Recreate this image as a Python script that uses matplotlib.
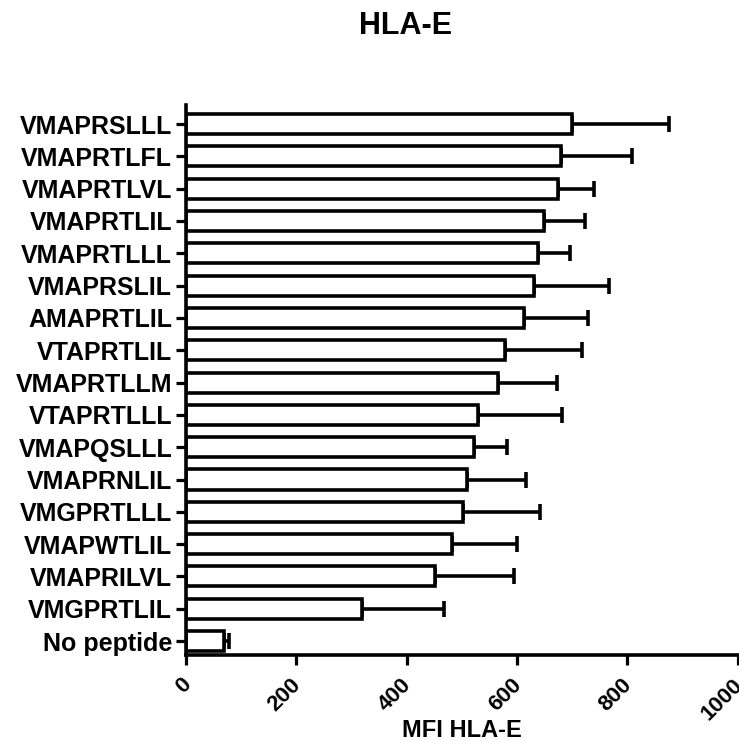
import numpy as np
import matplotlib
matplotlib.use('Agg')
import matplotlib.pyplot as plt

# peptides, top to bottom
peptides = ['VMAPRSLLL', 'VMAPRTLFL', 'VMAPRTLVL', 'VMAPRTLIL', 'VMAPRTLLL',
            'VMAPRSLIL', 'AMAPRTLIL', 'VTAPRTLIL', 'VMAPRTLLM', 'VTAPRTLLL',
            'VMAPQSLLL', 'VMAPRNLIL', 'VMGPRTLLL', 'VMAPWTLIL', 'VMAPRILVL',
            'VMGPRTLIL', 'No peptide']
mfi_mean = [699, 680, 675, 650, 639, 631, 612, 579, 565, 530,
            522, 509, 502, 482, 451, 319, 68]
mfi_err = [177, 128, 65, 73, 58, 136, 117, 139, 107, 151,
           60, 107, 140, 119, 144, 148, 10]
x_ticks = [0, 200, 400, 600, 800, 1000]

plt.rcParams['font.family'] = ['Liberation Sans', 'DejaVu Sans']
plt.rcParams['font.weight'] = 'bold'

fig = plt.figure(figsize=(7.39, 7.42), dpi=100)
ax = fig.add_axes([0.2517, 0.1173, 0.7463, 0.7412])

n = len(peptides)
ypos = np.arange(n)[::-1]  # first peptide at the top

ax.barh(ypos, mfi_mean, height=0.62, color='white', edgecolor='black',
        linewidth=2.6, zorder=2)
ax.errorbar(mfi_mean, ypos, xerr=[np.zeros(n), mfi_err], fmt='none',
            ecolor='black', elinewidth=2.6, capsize=5.5, capthick=2.6, zorder=1)

ax.set_xlim(0, 1000)
ax.set_ylim(-0.43, 16.59)
ax.set_yticks(ypos)
ax.set_yticklabels(peptides, fontsize=18, fontweight='bold')
ax.set_xticks(x_ticks)
ax.set_xticklabels([str(t) for t in x_ticks], fontsize=16, fontweight='bold',
                   rotation=45, ha='right', va='center_baseline',
                   rotation_mode='anchor')

for side in ['top', 'right']:
    ax.spines[side].set_visible(False)
for side in ['left', 'bottom']:
    ax.spines[side].set_linewidth(2.6)

ax.tick_params(axis='both', direction='out', length=7, width=2.3)
ax.tick_params(axis='y', pad=3)
ax.tick_params(axis='x', pad=11)

ax.set_xlabel('MFI HLA-E', fontsize=17, fontweight='bold')
ax.xaxis.set_label_coords(0.5, -0.117)
fig.text(406 / 739, 1 - 26 / 742, 'HLA-E', fontsize=22, fontweight='bold',
         ha='center', va='center')

fig.savefig('out.png', dpi=100)
